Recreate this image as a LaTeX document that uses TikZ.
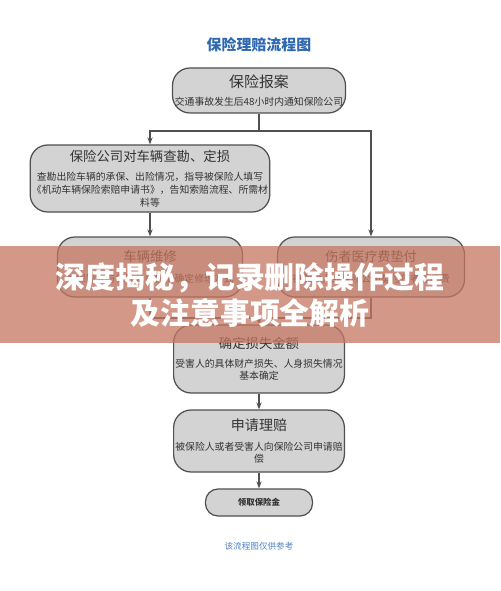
\documentclass[tikz,border=0pt]{standalone}
\usepackage{fontspec}
\setmainfont{Noto Sans CJK SC}
\usetikzlibrary{arrows.meta}

\definecolor{boxfill}{RGB}{211,211,211}
\definecolor{boxline}{RGB}{80,80,80}
\definecolor{titleblue}{RGB}{46,104,176}
\definecolor{noteblue}{RGB}{80,130,196}
\definecolor{banner}{RGB}{198,118,98}

\newcommand{\steptitle}[1]{\fontsize{#1}{7.2}\selectfont}
\newcommand{\steptext}{\fontsize{5.6}{7.2}\selectfont}

\tikzset{
  stepbox/.style={draw=boxline, fill=boxfill, line width=0.7pt, rounded corners=0.35cm,
    align=center, text=black!80, inner sep=1pt, font=\fontsize{5.6}{7.2}\selectfont},
  flow/.style={draw=boxline, line width=0.6pt},
  flowarrow/.style={flow, -{Stealth[length=4pt,width=3pt]}}
}

\begin{document}
\begin{tikzpicture}[x=0.02cm, y=-0.02cm]
			\useasboundingbox (0,0) rectangle (500,591);
			\fill[white] (0,0) rectangle (500,591);

			% Title
			\node[text=titleblue, font=\fontsize{8.5}{10}\selectfont\bfseries] (title) at (259,45) {保险理赔流程图};

			% Steps
			\node[stepbox, minimum width=173*0.02cm, minimum height=45*0.02cm] (report) at (259,90.5)
				{\steptitle{8.5}保险报案\\[3pt]
				\steptext 交通事故发生后48小时内通知保险公司};
			\node[stepbox, minimum width=222*0.02cm, minimum height=67*0.02cm] (survey) at (150,178.5)
				{\steptitle{7.6}保险公司对车辆查勘、定损\\[4pt]
				\steptext 查勘出险车辆的承保、出险情况，指导被保险人填写\\
				\steptext 《机动车辆保险索赔申请书》，告知索赔流程、所需材\\
				\steptext 料等};
			\node[stepbox, minimum width=185*0.02cm, minimum height=60*0.02cm] (repair) at (150,267)
				{\steptitle{7.6}车辆维修\\[5pt]
				\steptext 被保险人与保险公司协商确定修理方式};
			\node[stepbox, minimum width=187*0.02cm, minimum height=60*0.02cm] (medical) at (371,267)
				{\steptitle{7.4}伤者医疗费垫付\\[5pt]
				\steptext 被保险人或保险公司垫付伤者医疗费};
			\node[stepbox, minimum width=160*0.02cm, minimum height=68*0.02cm] (amount) at (259,359)
				{\steptitle{7.6}确定损失金额\\[3.5pt]
				\steptext 受害人的具体财产损失、人身损失情况\\
				\steptext 基本确定};
			\node[stepbox, minimum width=162*0.02cm, minimum height=62*0.02cm] (claim) at (259,441)
				{\steptitle{8}申请理赔\\[4pt]
				\steptext 被保险人或者受害人向保险公司申请赔\\
				\steptext 偿};
			\node[stepbox, rounded corners=0.25cm, minimum width=107*0.02cm, minimum height=27*0.02cm,
				font=\fontsize{4.8}{6}\selectfont\bfseries] (payout) at (259,502.5) {领取保险金};

			% Links
			\coordinate (split) at (259,131);
			\coordinate (merge) at (259,318);
			\draw[flow] (report) -- (split);
			\draw[flowarrow] (split) -| (survey);
			\draw[flowarrow] (split) -| (medical);
			\draw[flowarrow] (survey) -- (repair);
			\draw[flow] (repair) |- (merge);
			\draw[flow] (medical) |- (merge);
			\draw[flowarrow] (merge) -- (amount);
			\draw[flowarrow] (amount) -- (claim);
			\draw[flowarrow] (claim) -- (payout);

			% Note
			\node[text=noteblue, font=\fontsize{4.9}{6}\selectfont] (note) at (259,546) {该流程图仅供参考};

			% Banner
			\fill[banner, fill opacity=0.75] (0,246) rectangle (500,343);
			\node[text=white, align=center, font=\fontsize{17}{20.5}\selectfont\bfseries] (headline) at (250,295)
				{深度揭秘，记录删除操作过程\\及注意事项全解析};
		\end{tikzpicture}
\end{document}
